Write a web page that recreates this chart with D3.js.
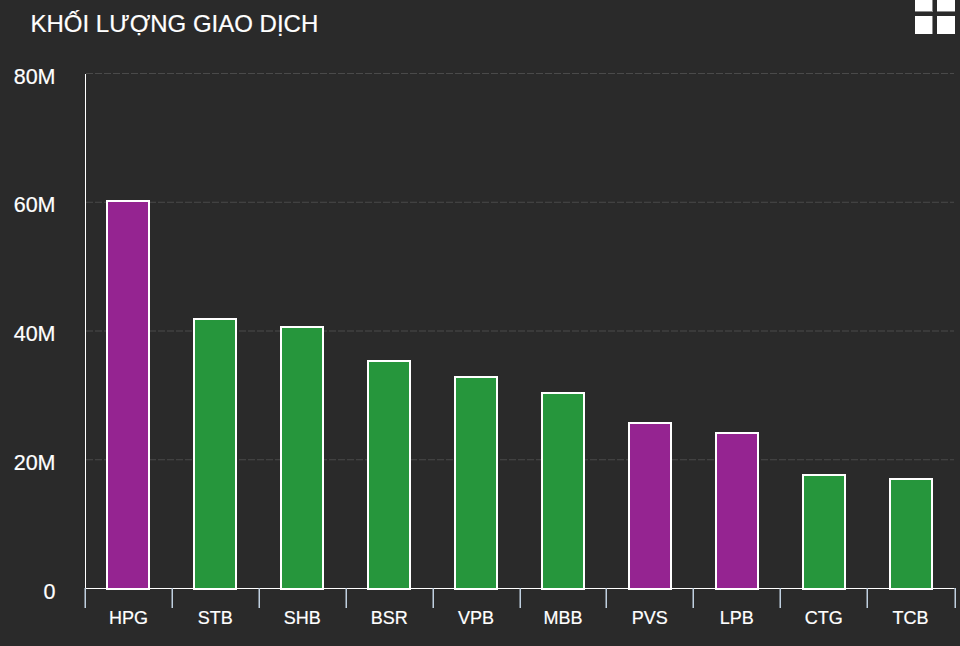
<!DOCTYPE html>
<html>
<head>
<meta charset="utf-8">
<script src="https://cdn.jsdelivr.net/npm/d3@7"></script>
<style>
html, body { margin: 0; padding: 0; background: #2a2a2a; overflow: hidden; }
text { font-family: "Liberation Sans", Arial, sans-serif; fill: #fff; stroke: #fff; stroke-width: 0.2px; }
</style>
</head>
<body>
<script>
var w = 960, h = 646;
var title = "KHỐI LƯỢNG GIAO DỊCH";
var symbols = ["HPG", "STB", "SHB", "BSR", "VPB", "MBB", "PVS", "LPB", "CTG", "TCB"];
var volumes = [60.2, 41.9, 40.6, 35.3, 32.8, 30.4, 25.7, 24.1, 17.6, 17.0]; // millions
var groups = ["p", "g", "g", "g", "g", "g", "p", "p", "g", "g"];
var yTicks = [0, 20, 40, 60, 80];

var colors = { p: "#952491", g: "#26963c" };
var left = 85, right = 954, top_ = 73.5, base = 588.5;

var svg = d3.select("body").append("svg").attr("width", w).attr("height", h).style("display", "block");

var x = d3.scaleBand().domain(symbols).range([left, right]);
var y = d3.scaleLinear().domain([0, 80]).range([base, top_]);

// title
svg.append("text").attr("x", 30.5).attr("y", 32).attr("font-size", 24).text(title);

// menu icon, four squares running off the top edge, shadow on inner edges only
[[915, 17, 1], [937, 18, 0]].forEach(function (col) {
  [[-7, 18, 1], [16, 18, 0]].forEach(function (row) {
    svg.append("rect").attr("x", col[0]).attr("y", row[0])
      .attr("width", col[1] + col[2]).attr("height", row[1] + row[2]).attr("fill", "#8a8a8a");
    svg.append("rect").attr("x", col[0]).attr("y", row[0])
      .attr("width", col[1]).attr("height", row[1]).attr("fill", "#fff");
  });
});

// grid
svg.append("g").selectAll("line").data(yTicks.slice(1)).enter().append("line")
  .attr("x1", left + 1).attr("x2", right)
  .attr("y1", function (d) { return y(d); }).attr("y2", function (d) { return y(d); })
  .attr("stroke", "#4a4a4a").attr("stroke-dasharray", "7,2");

// bars
svg.append("g").selectAll("rect").data(symbols).enter().append("rect")
  .attr("x", function (d) { return Math.round(x(d) + x.bandwidth() / 2 - 21); })
  .attr("y", function (d, i) { return Math.round(y(volumes[i])); })
  .attr("width", 42)
  .attr("height", function (d, i) { return 589 - Math.round(y(volumes[i])); })
  .attr("fill", function (d, i) { return colors[groups[i]]; })
  .attr("stroke", "#fff").attr("stroke-width", 2);

// y axis
var yAxis = svg.append("g").attr("transform", "translate(" + left + ",0)")
  .call(d3.axisLeft(y).tickValues(yTicks).tickSize(0).tickPadding(0)
    .tickFormat(function (d) { return d === 0 ? "0" : d + "M"; }));
yAxis.select(".domain").attr("stroke", "#fff");
yAxis.selectAll("text").attr("x", -29.5).attr("dy", "0.45em").attr("font-size", 21.5)
  .attr("text-anchor", "end").attr("fill", "#fff");

// x axis, ticks sit on the band edges
var xAxis = svg.append("g").attr("transform", "translate(0,588)")
  .call(d3.axisBottom(x).tickSize(0).tickPadding(0));
xAxis.select(".domain").attr("stroke", "#fff");
xAxis.selectAll("text").attr("y", 36).attr("dy", 0).attr("font-size", 18).attr("fill", "#fff");
var edges = symbols.map(function (d) { return x(d); }).concat([right + 1]);
xAxis.selectAll("line.edge").data(edges).enter().append("line").attr("class", "edge")
  .attr("x1", function (d) { return Math.round(d) + 0.25; }).attr("x2", function (d) { return Math.round(d) + 0.25; })
  .attr("y1", 0).attr("y2", 20)
  .attr("stroke", "#c0d0e0").attr("stroke-width", 1.5);
</script>
</body>
</html>
